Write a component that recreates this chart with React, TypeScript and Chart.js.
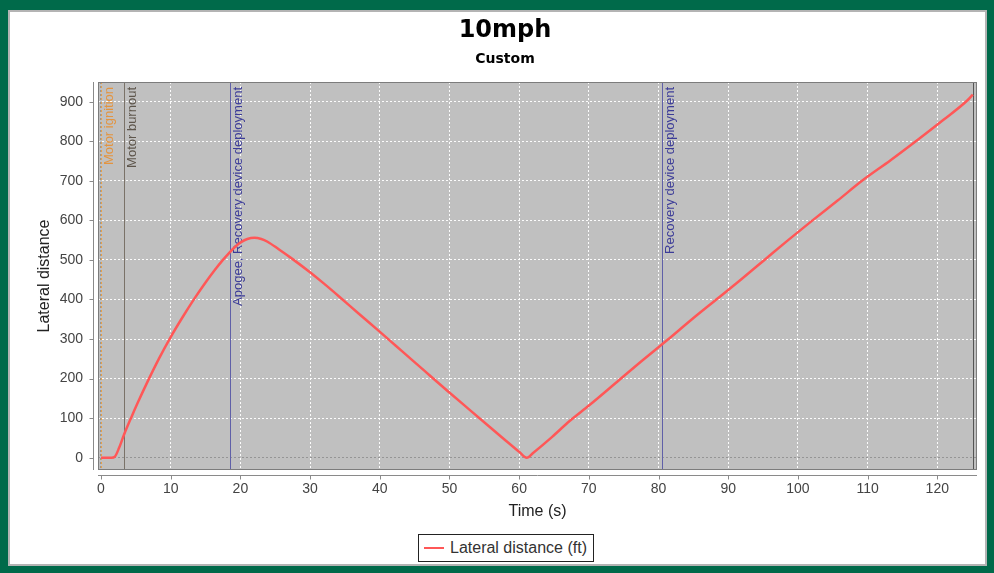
import React, { useEffect, useRef } from "react";
import { Chart, registerables } from "chart.js";

Chart.register(...registerables);

// ---- data ----
const timeS = [
  0, 1.5, 2.0, 2.6, 3.3, 4.3, 5.3, 6.7, 8.3, 10, 11.7, 13.4, 15, 16.3, 17.5, 18.4, 19.3, 20.1, 21, 22, 23,
  23.9, 25.5, 27.5, 29.9, 32, 34.2, 37, 39.9, 42.3, 44.7, 47.3, 49.9, 52.9, 55.7, 58.1, 60, 61.1,
  62, 64.7, 67.2, 70.1, 74.4, 77.5, 81.3, 84.8, 88.3, 91.8, 95.2, 98.6, 102.1, 105.7, 109.2, 113.3,
  117.3, 120.8, 124.3, 125.1,
];
const lateralFt = [
  0, 0, 3, 25, 58, 100, 140, 193, 250, 305, 355, 402, 443, 474, 500, 518, 534, 545, 553, 556, 553,
  546, 527, 502, 470, 440, 407, 364, 320, 283, 246, 206, 166, 121, 79, 43, 15, 0,
  12, 52, 92, 133, 197, 243, 298, 350, 400, 450, 500, 550, 600, 650, 700, 752,
  805, 853, 903, 918,
];

const eventTimes = [0, 3.35, 18.5, 80.55, 125.15];
const eventLabels = [
  "Motor ignition",
  "Motor burnout",
  "Apogee, Recovery device deployment",
  "Recovery device deployment",
  "Ground hit",
];
const eventLineColors = ["#e8a048", "#7a7268", "#6060a8", "#6060a8", "#555555"];
const eventTextColors = ["#e39440", "#5e564c", "#3c3c98", "#3c3c98", "#333333"];

const titleText = "10mph";
const subtitleText = "Custom";
const xTitle = "Time (s)";
const yTitle = "Lateral distance";
const seriesLabel = "Lateral distance (ft)";

const X_MIN = -0.43;
const X_MAX = 125.7;
const Y_MIN = -31.1;
const Y_MAX = 949.8;

const CURVE = "#ff5757";
const FONT = "'Liberation Sans', Arial, sans-serif";

const decorPlugin = {
  id: "decor",
  beforeDraw(chart: any) {
    const { ctx, chartArea: a } = chart;
    ctx.save();
    ctx.fillStyle = "#c0c0c0";
    ctx.fillRect(a.left, a.top, a.right - a.left, a.bottom - a.top);
    ctx.restore();
  },
  beforeDatasetsDraw(chart: any) {
    const { ctx, chartArea: a } = chart;
    const xs = chart.scales.x;
    ctx.save();
    ctx.beginPath();
    ctx.rect(a.left, a.top, a.right - a.left, a.bottom - a.top);
    ctx.clip();
    eventTimes.forEach((t, i) => {
      const px = Math.round(xs.getPixelForValue(t)) + 0.5;
      ctx.strokeStyle = eventLineColors[i];
      ctx.lineWidth = 1;
      ctx.setLineDash(i === 0 ? [2, 2] : []);
      ctx.beginPath();
      ctx.moveTo(px, a.top);
      ctx.lineTo(px, a.bottom);
      ctx.stroke();
      ctx.setLineDash([]);
      ctx.save();
      ctx.translate(px + 8, a.top + 5);
      ctx.rotate(-Math.PI / 2);
      ctx.font = `13px ${FONT}`;
      ctx.fillStyle = eventTextColors[i];
      ctx.textAlign = "right";
      ctx.textBaseline = "middle";
      ctx.fillText(eventLabels[i], 0, 0);
      ctx.restore();
    });
    ctx.restore();
  },
  afterDraw(chart: any) {
    const { ctx, chartArea: a } = chart;
    const xs = chart.scales.x;
    const ys = chart.scales.y;
    ctx.save();
    ctx.strokeStyle = "#7c7c7c";
    ctx.lineWidth = 1;
    ctx.strokeRect(a.left + 0.5, a.top + 0.5, a.right - a.left - 1, a.bottom - a.top - 1);
    ctx.strokeStyle = "#8a8a8a";
    const yx = a.left - 4.5;
    ctx.beginPath();
    ctx.moveTo(yx, a.top);
    ctx.lineTo(yx, a.bottom);
    ys.ticks.forEach((tk: any) => {
      const py = Math.round(ys.getPixelForValue(tk.value)) + 0.5;
      ctx.moveTo(yx, py);
      ctx.lineTo(yx - 4, py);
    });
    ctx.stroke();
    const xy = a.bottom + 5.5;
    ctx.beginPath();
    ctx.moveTo(a.left, xy);
    ctx.lineTo(a.right, xy);
    xs.ticks.forEach((tk: any) => {
      const px = Math.round(xs.getPixelForValue(tk.value)) + 0.5;
      ctx.moveTo(px, xy);
      ctx.lineTo(px, xy + 4);
    });
    ctx.stroke();
    ctx.restore();
  },
};

export default function App() {
  const canvasRef = useRef<HTMLCanvasElement | null>(null);

  useEffect(() => {
    if (!canvasRef.current) return;
    const points = timeS.map((t, i) => ({ x: t, y: lateralFt[i] }));
    const gridColor = (c: any) => (c.tick && c.tick.value === 0 ? "#959595" : "rgba(255,255,255,0.95)");
    const chart = new Chart(canvasRef.current, {
      type: "line",
      data: {
        datasets: [
          {
            label: seriesLabel,
            data: points,
            borderColor: CURVE,
            backgroundColor: CURVE,
            borderWidth: 2.5,
            pointRadius: 0,
            cubicInterpolationMode: "monotone",
            fill: false,
          },
        ],
      },
      options: {
        animation: false,
        responsive: true,
        maintainAspectRatio: false,
        layout: { padding: { top: 0, left: 21, right: 7, bottom: 35 } },
        plugins: {
          legend: { display: false },
          tooltip: { enabled: false },
          title: {
            display: true,
            text: titleText,
            color: "#000",
            font: { family: "'DejaVu Sans', sans-serif", size: 24, weight: "bold", lineHeight: 1.2 },
            padding: { top: 4.6, bottom: 0 },
          },
          subtitle: {
            display: true,
            text: subtitleText,
            color: "#000",
            font: { family: "'DejaVu Sans', sans-serif", size: 14, weight: "bold", lineHeight: 1.2 },
            padding: { top: 5.2, bottom: 14.6 },
          },
        },
        scales: {
          x: {
            type: "linear",
            min: X_MIN,
            max: X_MAX,
            border: { display: false, dash: [2, 2] },
            grid: { color: gridColor, drawTicks: false, lineWidth: 1 },
            ticks: {
              stepSize: 10,
              includeBounds: false,
              padding: 10.6,
              color: "#444",
              font: { family: FONT, size: 14 },
              maxRotation: 0,
            },
            title: {
              display: true,
              text: xTitle,
              color: "#222",
              font: { family: FONT, size: 16 },
              padding: { top: 0, bottom: 8.4 },
            },
            afterFit(scale: any) {
              scale.height = 60;
            },
          },
          y: {
            type: "linear",
            min: Y_MIN,
            max: Y_MAX,
            border: { display: false, dash: [2, 2] },
            grid: { color: gridColor, drawTicks: false, lineWidth: 1 },
            ticks: {
              stepSize: 100,
              includeBounds: false,
              padding: 15,
              color: "#444",
              font: { family: FONT, size: 14 },
            },
            title: {
              display: true,
              text: yTitle,
              color: "#222",
              font: { family: FONT, size: 16 },
              padding: { top: 2.4, bottom: 0 },
            },
            afterFit(scale: any) {
              scale.width = 65;
            },
          },
        },
      } as any,
      plugins: [decorPlugin],
    });
    return () => chart.destroy();
  }, []);

  return (
    <div style={{ position: "fixed", left: 0, top: 0, width: 994, height: 573, background: "#006a4a", overflow: "hidden" }}>
      <div
        style={{
          position: "absolute",
          left: 8,
          top: 10,
          width: 979,
          height: 556,
          boxSizing: "border-box",
          background: "#fff",
          border: "2px solid #b4b4b4",
        }}
      />
      <div style={{ position: "absolute", left: 12, top: 12, width: 972, height: 553 }}>
        <canvas ref={canvasRef} />
      </div>
      <div
        style={{
          position: "absolute",
          left: 418,
          top: 534,
          width: 176,
          height: 28,
          boxSizing: "border-box",
          border: "1px solid #222",
          background: "#fff",
          display: "flex",
          alignItems: "center",
          fontFamily: FONT,
          fontSize: 16,
          color: "#333",
          whiteSpace: "nowrap",
        }}
      >
        <span style={{ display: "inline-block", width: 20, height: 2, background: CURVE, marginLeft: 5, marginRight: 6 }} />
        <span>{seriesLabel}</span>
      </div>
    </div>
  );
}
